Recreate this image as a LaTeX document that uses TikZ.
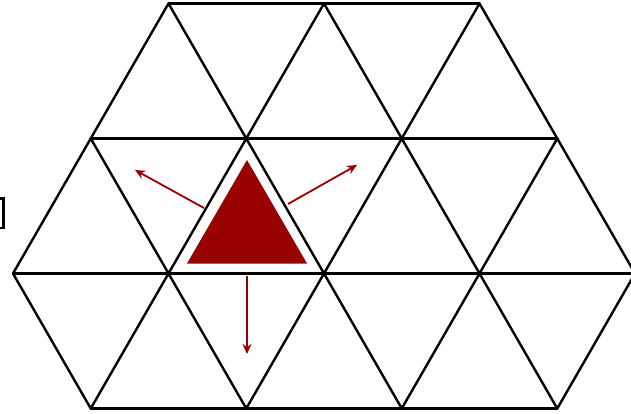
\documentclass[tikz,border=0pt]{standalone}
\usetikzlibrary{arrows.meta}
\definecolor{darkred}{HTML}{990000}
\tikzset{
  grid/.style={draw=black, line width=2.4pt, line join=round, line cap=round},
  pusharrow/.style={draw=darkred, line width=1.8pt, -{Stealth[length=10pt,width=9pt]}},
  tile/.style={fill=darkred, draw=none}
}
\begin{document}
\begin{tikzpicture}[x=1pt,y=-1pt]
\useasboundingbox (0,0) rectangle (631,414);
% lattice vertices
\coordinate (a1) at (168.5,3.5);
\coordinate (a2) at (324,3.5);
\coordinate (a3) at (479.5,3.5);
\coordinate (b1) at (90.75,138.5);
\coordinate (b2) at (246.25,138.5);
\coordinate (b3) at (401.75,138.5);
\coordinate (b4) at (557.25,138.5);
\coordinate (c1) at (13,273.5);
\coordinate (c2) at (168.5,273.5);
\coordinate (c3) at (324,273.5);
\coordinate (c4) at (479.5,273.5);
\coordinate (c5) at (635,273.5);
\coordinate (d1) at (90.75,408.5);
\coordinate (d2) at (246.25,408.5);
\coordinate (d3) at (401.75,408.5);
\coordinate (d4) at (557.25,408.5);
% horizontal lines
\draw[grid] (a1) -- (a3);
\draw[grid] (b1) -- (b4);
\draw[grid] (c1) -- (c5);
\draw[grid] (d1) -- (d4);
% row 0 to row 1
\draw[grid] (b1) -- (a1) -- (b2) -- (a2) -- (b3) -- (a3) -- (b4);
% row 1 to row 2
\draw[grid] (c1) -- (b1) -- (c2) -- (b2) -- (c3) -- (b3) -- (c4) -- (b4) -- (c5);
% row 2 to row 3
\draw[grid] (c1) -- (d1) -- (c2) -- (d2) -- (c3) -- (d3) -- (c4) -- (d4) -- (c5);
% red tile
\coordinate (t1) at (247,160);
\coordinate (t2) at (187,263.5);
\coordinate (t3) at (307,263.5);
\path[tile] (t1) -- (t2) -- (t3) -- cycle;
% arrows
\coordinate (l0) at (204,208);
\coordinate (l1) at (135,170);
\coordinate (r0) at (288,204);
\coordinate (r1) at (357,165);
\coordinate (s0) at (247,276);
\coordinate (s1) at (247,354);
\draw[pusharrow] (l0) -- (l1);
\draw[pusharrow] (r0) -- (r1);
\draw[pusharrow] (s0) -- (s1);
% bracket fragment at the left edge
\coordinate (k1) at (0,198.5);
\coordinate (k2) at (3.5,198.5);
\coordinate (k3) at (3.5,228);
\coordinate (k4) at (0,228);
\draw[black, line width=2.2pt] (k1) -- (k2) -- (k3) -- (k4);
\end{tikzpicture}
\end{document}
